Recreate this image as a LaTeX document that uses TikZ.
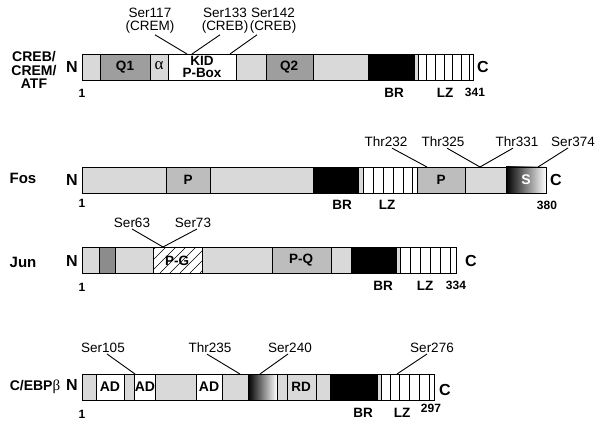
\documentclass[tikz,border=0pt]{standalone}
\usepackage{fontspec}
\setmainfont{Liberation Sans}
\newfontfamily\grk{Liberation Serif}
\usetikzlibrary{positioning,calc}

\definecolor{barlite}{gray}{0.85}
\definecolor{bardark}{gray}{0.62}
\definecolor{barmid}{gray}{0.74}
\definecolor{bardeep}{gray}{0.55}

\tikzset{
  seg/.style={draw, line width=0.9pt},
  lite/.style={seg, fill=barlite},
  dark/.style={seg, fill=bardark},
  mid/.style={seg, fill=barmid},
  deep/.style={seg, fill=bardeep},
  blank/.style={seg, fill=white},
  inked/.style={seg, fill=black},
  stub/.style={line width=0.9pt},
  rowname/.style={font=\bfseries\fontsize{14}{13.5}\selectfont, align=center, inner sep=0pt},
  endtxt/.style={font=\bfseries\fontsize{16}{16}\selectfont, inner sep=0pt},
  boxtxt/.style={font=\bfseries\fontsize{13.5}{12}\selectfont, align=center, inner sep=0pt},
  site/.style={font=\fontsize{13.5}{13}\selectfont, align=center, inner sep=1pt},
  tag/.style={font=\bfseries\fontsize{13.5}{13.5}\selectfont, inner sep=0pt},
  num/.style={font=\bfseries\fontsize{12}{12}\selectfont, inner sep=0pt}
}

\begin{document}
\begin{tikzpicture}[x=1pt,y=-1pt]
\useasboundingbox (0,0) rectangle (604,427);

% CREB/CREM/ATF
\foreach \a/\b/\s in {82/100/lite, 100/150/dark, 150/168/lite, 168/236/blank, 236/266/lite,
    266/313/dark, 313/368/lite, 368/414/inked, 414/418/lite, 418/473/blank}
  \draw[\s] (\a,54) rectangle (\b,80);
\foreach \x in {426,435,444,452,461,469}
  \draw[seg] (\x,54) -- (\x,80);
\node[rowname] (creb) at (34,70) {CREB/\\CREM/\\ATF};
\node[endtxt] (creb-n) at (72,67) {N};
\node[endtxt] (creb-c) at (483,67) {C};
\node[num] (creb-1) at (82,93) {1};
\node[tag] (creb-br) at (394,93) {BR};
\node[tag] (creb-lz) at (445,93) {LZ};
\node[num] (creb-end) at (475,92) {341};
\node[boxtxt] (q1) at (125,67) {Q1};
\node[inner sep=0pt, font=\grk\fontsize{17}{17}\selectfont] (alpha) at (159,66) {α};
\node[boxtxt] (kid) at (202,67) {KID\\P-Box};
\node[boxtxt] (q2) at (289,67) {Q2};
\node[site] (s117) at (150,21) {Ser117\\(CREM)};
\node[site] (s133) at (225,21) {Ser133\\(CREB)};
\node[site] (s142) at (273,21) {Ser142\\(CREB)};
\coordinate (k117) at (187,54);
\coordinate (k133) at (192,54);
\coordinate (k142) at (230,54);
\draw[stub] ([xshift=5pt]s117.south) -- (k117);
\draw[stub] ([xshift=-5pt]s133.south) -- (k133);
\draw[stub] ([xshift=-16pt]s142.south) -- (k142);

% Fos
\foreach \a/\b/\s in {82/166/lite, 166/210/mid, 210/313/lite, 313/358/inked, 358/363/lite,
    363/417/blank, 417/465/mid, 465/506/lite}
  \draw[\s] (\a,167) rectangle (\b,193);
\foreach \x in {373,383,393,403,412}
  \draw[seg] (\x,167) -- (\x,193);
\shade[left color=black, right color=white] (506,167) rectangle (546,193);
\draw[seg] (506,167) rectangle (546,193);
\node[rowname, font=\bfseries\fontsize{15}{15}\selectfont] (fos) at (23,178) {Fos};
\node[endtxt] (fos-n) at (72,180) {N};
\node[endtxt] (fos-c) at (556,180) {C};
\node[num] (fos-1) at (82,203) {1};
\node[tag] (fos-br) at (342,205) {BR};
\node[tag] (fos-lz) at (387,205) {LZ};
\node[num] (fos-end) at (547,205) {380};
\node[boxtxt] (fos-p1) at (188,180) {P};
\node[boxtxt] (fos-p2) at (441,180) {P};
\node[boxtxt, text=white, font=\bfseries\fontsize{14}{14}\selectfont] (fos-s) at (526,180) {S};
\node[site] (t232) at (386,142) {Thr232};
\node[site] (t325) at (443,142) {Thr325};
\node[site] (t331) at (517,142) {Thr331};
\node[site] (s374) at (573,142) {Ser374};
\coordinate (k232) at (427,167);
\coordinate (k325) at (480,167);
\coordinate (k374) at (538,167);
\draw[stub] ([xshift=6pt]t232.south) -- (k232);
\draw[stub] ([xshift=4pt]t325.south) -- (k325);
\draw[stub] ([xshift=-4pt]t331.south) -- (k325);
\draw[stub] ([xshift=-5pt]s374.south) -- (k374);

% Jun
\foreach \a/\b/\s in {82/99/lite, 99/115/deep, 115/153/lite, 153/202/blank, 202/272/lite,
    272/331/mid, 331/351/lite, 351/396/inked, 396/400/lite, 400/456/blank}
  \draw[\s] (\a,247) rectangle (\b,273);
\begin{scope}
  \clip (153,247) rectangle (202,273);
  \foreach \x in {130,140,...,200}
    \draw[line width=0.6pt] (\x,273) -- ++(26,-26);
\end{scope}
\draw[seg] (153,247) rectangle (202,273);
\foreach \x in {410,420,430,440,450}
  \draw[seg] (\x,247) -- (\x,273);
\node[rowname, font=\bfseries\fontsize{15}{15}\selectfont] (jun) at (23,262) {Jun};
\node[endtxt] (jun-n) at (72,261) {N};
\node[endtxt] (jun-c) at (471,261) {C};
\node[num] (jun-1) at (82,287) {1};
\node[tag] (jun-br) at (383,286) {BR};
\node[tag] (jun-lz) at (425,286) {LZ};
\node[num] (jun-end) at (456,285) {334};
\node[boxtxt] (pg) at (177,261) {P-G};
\node[boxtxt] (pq) at (301,260) {P-Q};
\node[site] (s63) at (132,223) {Ser63};
\node[site] (s73) at (193,223) {Ser73};
\coordinate (k63) at (163,247);
\draw[stub] (s63.south) -- (k63);
\draw[stub] ([xshift=4pt]s73.south) -- (k63);

% C/EBPbeta
\foreach \a/\b/\s in {82/96/lite, 96/124/blank, 124/134/lite, 134/155/blank, 155/196/lite,
    196/222/blank, 222/248/lite, 277/287/lite, 287/316/lite, 316/330/lite, 330/377/inked,
    377/381/lite, 381/434/blank}
  \draw[\s] (\a,374) rectangle (\b,400);
\shade[left color=black, right color=white] (248,374) rectangle (277,400);
\draw[seg] (248,374) rectangle (277,400);
\foreach \x in {390,399,409,419,429}
  \draw[seg] (\x,374) -- (\x,400);
\node[rowname] (cebp) at (35,387) {C/EBP{\grk\mdseries\fontsize{15}{15}\selectfont β}};
\node[endtxt] (cebp-n) at (72,385) {N};
\node[endtxt] (cebp-c) at (445,390) {C};
\node[num] (cebp-1) at (82,414) {1};
\node[tag] (cebp-br) at (363,413) {BR};
\node[tag] (cebp-lz) at (402,413) {LZ};
\node[num] (cebp-end) at (431,408) {297};
\node[boxtxt, font=\bfseries\fontsize{14}{14}\selectfont] (ad1) at (110,387) {AD};
\node[boxtxt, font=\bfseries\fontsize{14}{14}\selectfont] (ad2) at (145,387) {AD};
\node[boxtxt, font=\bfseries\fontsize{14}{14}\selectfont] (ad3) at (209,387) {AD};
\node[boxtxt] (rd) at (301,387) {RD};
\node[site] (s105) at (103,348) {Ser105};
\node[site] (t235) at (210,348) {Thr235};
\node[site] (s240) at (290,348) {Ser240};
\node[site] (s276) at (432,348) {Ser276};
\coordinate (k105) at (135,374);
\coordinate (k235) at (240,374);
\coordinate (k240) at (260,374);
\coordinate (k276) at (397,374);
\draw[stub] ([xshift=4pt]s105.south) -- (k105);
\draw[stub] ([xshift=-3pt]t235.south) -- (k235);
\draw[stub] ([xshift=-2pt]s240.south) -- (k240);
\draw[stub] ([xshift=-5pt]s276.south) -- (k276);
\end{tikzpicture}
\end{document}
